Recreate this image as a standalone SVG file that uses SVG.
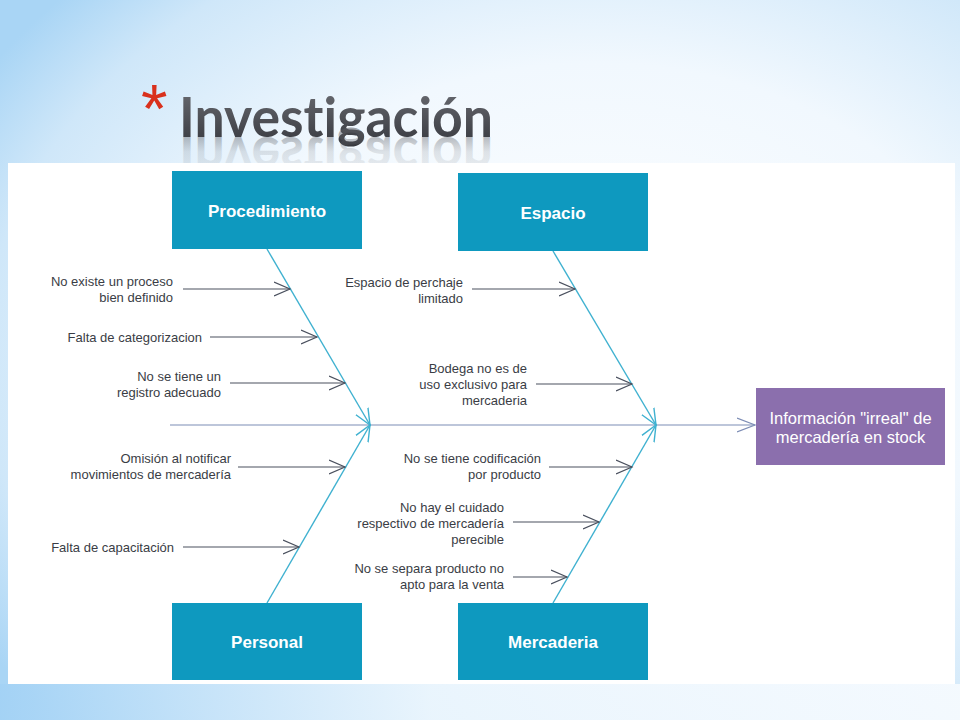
<svg xmlns="http://www.w3.org/2000/svg" width="960" height="720" viewBox="0 0 960 720">
  <defs>
    <radialGradient id="bg" cx="0.62" cy="0.5" r="0.75">
      <stop offset="0" stop-color="#ffffff"/>
      <stop offset="0.55" stop-color="#f1f8fe"/>
      <stop offset="0.85" stop-color="#cfe7f9"/>
      <stop offset="1" stop-color="#a9d5f5"/>
    </radialGradient>
    <linearGradient id="bottomStrip" x1="0" y1="0" x2="1" y2="0">
      <stop offset="0" stop-color="#a3d2f5"/>
      <stop offset="0.45" stop-color="#eaf5fd"/>
      <stop offset="1" stop-color="#f7fbff"/>
    </linearGradient>
    <linearGradient id="titleFill" x1="0" y1="0" x2="0" y2="1">
      <stop offset="0" stop-color="#6e7076"/>
      <stop offset="1" stop-color="#35373d"/>
    </linearGradient>
    <linearGradient id="reflFill" x1="0" y1="0" x2="0" y2="1">
      <stop offset="0" stop-color="#5a5c62" stop-opacity="0"/>
      <stop offset="0.6" stop-color="#5a5c62" stop-opacity="0.15"/>
      <stop offset="1" stop-color="#5a5c62" stop-opacity="0.6"/>
    </linearGradient>
    <marker id="causeArrow" markerUnits="userSpaceOnUse" markerWidth="20" markerHeight="20" refX="16" refY="8" orient="auto" viewBox="0 0 20 16">
      <path d="M0,1 L16,8 L0,15" fill="none" stroke="#4a505e" stroke-width="1.2"/>
    </marker>
    <marker id="boneArrow" markerUnits="userSpaceOnUse" markerWidth="20" markerHeight="20" refX="16" refY="8" orient="auto" viewBox="0 0 20 16">
      <path d="M0,1 L16,8 L0,15" fill="none" stroke="#3fb1d0" stroke-width="1.4"/>
    </marker>
    <marker id="spineArrow" markerUnits="userSpaceOnUse" markerWidth="22" markerHeight="20" refX="18" refY="8" orient="auto" viewBox="0 0 22 16">
      <path d="M0,1 L18,8 L0,15" fill="none" stroke="#7d8db5" stroke-width="1.2"/>
    </marker>
  </defs>
  <style>
    .cat rect { fill: #0e99bf; }
    .cat text { font-family: "Liberation Sans", Arial, sans-serif; font-weight: bold; font-size: 17px; fill: #ffffff; text-anchor: middle; }
    .lbl { font-family: "Liberation Sans", Arial, sans-serif; font-size: 13px; fill: #3a3d45; text-anchor: end; }
    .cause { stroke: #4a505e; stroke-width: 1.2; fill: none; marker-end: url(#causeArrow); }
    .bone { stroke: #3fb1d0; stroke-width: 1.4; fill: none; marker-end: url(#boneArrow); }
    .spine { stroke: #7d8db5; stroke-width: 1.2; fill: none; marker-end: url(#spineArrow); }
    .effect text { font-family: "Liberation Sans", Arial, sans-serif; font-size: 16.5px; fill: #ffffff; text-anchor: middle; }
    .ttl { font-family: Lato, "Liberation Sans", sans-serif; font-weight: bold; font-size: 56px; font-variant-ligatures: none; font-feature-settings: "liga" 0; }
  </style>

  <!-- background -->
  <rect x="0" y="0" width="960" height="720" fill="url(#bg)"/>
  <rect x="0" y="684" width="960" height="36" fill="url(#bottomStrip)" opacity="0.9"/>

  <!-- title -->
  <g id="title">
    <text x="141" y="132" font-family="Liberation Sans, Arial, sans-serif" font-size="68" fill="#d9301c">*</text>
    <text class="ttl" x="179" y="137" textLength="314" lengthAdjust="spacingAndGlyphs" fill="url(#titleFill)">Investigación</text>
    <text class="ttl" x="179" y="137" transform="translate(0,274) scale(1,-1)" textLength="314" lengthAdjust="spacingAndGlyphs" fill="url(#reflFill)">Investigación</text>
  </g>

  <!-- white panel -->
  <rect x="8" y="163" width="947" height="521" fill="#ffffff"/>

  <!-- connectors -->
  <g id="connectors">
    <line class="spine" x1="170" y1="425" x2="755" y2="425"/>
    <line class="bone" x1="267" y1="249" x2="370" y2="425"/>
    <line class="bone" x1="553" y1="251" x2="656" y2="425"/>
    <line class="bone" x1="267" y1="603" x2="370" y2="425"/>
    <line class="bone" x1="553" y1="603" x2="656" y2="425"/>

    <line class="cause" x1="183" y1="289" x2="290" y2="289"/>
    <line class="cause" x1="210" y1="337" x2="317" y2="337"/>
    <line class="cause" x1="230" y1="383" x2="345" y2="383"/>
    <line class="cause" x1="238" y1="467" x2="345" y2="467"/>
    <line class="cause" x1="183" y1="547" x2="299" y2="547"/>

    <line class="cause" x1="472" y1="289" x2="575" y2="289"/>
    <line class="cause" x1="536" y1="384" x2="632" y2="384"/>
    <line class="cause" x1="549" y1="467" x2="632" y2="467"/>
    <line class="cause" x1="513" y1="522" x2="599" y2="522"/>
    <line class="cause" x1="513" y1="577" x2="567" y2="577"/>
  </g>

  <!-- cause labels -->
  <g id="causes">
    <text class="lbl" x="173" y="286">No existe un proceso</text>
    <text class="lbl" x="173" y="302">bien definido</text>
    <text class="lbl" x="202" y="342">Falta de categorizacion</text>
    <text class="lbl" x="221" y="381">No se tiene un</text>
    <text class="lbl" x="221" y="397">registro adecuado</text>
    <text class="lbl" x="231" y="463">Omisión al notificar</text>
    <text class="lbl" x="231" y="479">movimientos de mercadería</text>
    <text class="lbl" x="174" y="552">Falta de capacitación</text>

    <text class="lbl" x="463" y="287">Espacio de perchaje</text>
    <text class="lbl" x="463" y="303">limitado</text>
    <text class="lbl" x="527" y="373">Bodega no es de</text>
    <text class="lbl" x="527" y="389">uso exclusivo para</text>
    <text class="lbl" x="527" y="405">mercaderia</text>
    <text class="lbl" x="541" y="463">No se tiene codificación</text>
    <text class="lbl" x="541" y="479">por producto</text>
    <text class="lbl" x="504" y="512">No hay el cuidado</text>
    <text class="lbl" x="504" y="528">respectivo de mercadería</text>
    <text class="lbl" x="504" y="544">perecible</text>
    <text class="lbl" x="504" y="573">No se separa producto no</text>
    <text class="lbl" x="504" y="589">apto para la venta</text>
  </g>

  <!-- category nodes -->
  <g id="procedimiento" class="cat">
    <rect x="172" y="171" width="190" height="78"/>
    <text x="267" y="217">Procedimiento</text>
  </g>
  <g id="espacio" class="cat">
    <rect x="458" y="173" width="190" height="78"/>
    <text x="553" y="219">Espacio</text>
  </g>
  <g id="personal" class="cat">
    <rect x="172" y="603" width="190" height="77"/>
    <text x="267" y="648">Personal</text>
  </g>
  <g id="mercaderia" class="cat">
    <rect x="458" y="603" width="190" height="77"/>
    <text x="553" y="648">Mercaderia</text>
  </g>

  <!-- effect node -->
  <g id="effect" class="effect">
    <rect x="756" y="388" width="189" height="77" fill="#8b6fad"/>
    <text x="850.5" y="424">Información "irreal" de</text>
    <text x="850.5" y="443">mercadería en stock</text>
  </g>
</svg>
